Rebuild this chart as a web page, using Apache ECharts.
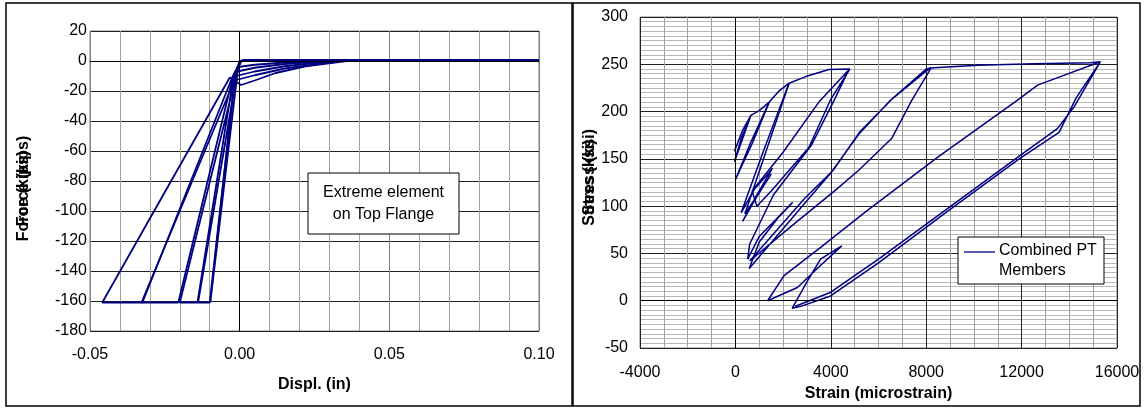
<!DOCTYPE html>
<html>
<head>
    <meta charset="utf-8">
    <title>PT force and stress</title>
    <script src="https://cdn.jsdelivr.net/npm/echarts@6.0.0/dist/echarts.min.js"></script>
    <style>
        html, body { margin: 0; padding: 0; background: #fff; }
    </style>
</head>
<body>
    <div id="main" style="width: 1146px;height:408px;"></div>
    <script type="text/javascript">
        // left panel: force (kips) vs displacement (in), extreme element on top flange
        var forceCycle1 = [[0.100, 0.8], [0.030, 0.8], [0.003, 0.8], [0.000, 0.0], [-0.0015, -8], [-0.0098, -161],
            [-0.0005, -4], [0.005, -2.5], [0.015, -1.0], [0.030, 0.3], [0.100, 0.8]];
        var forceCycle2 = [[0.100, 0.8], [0.030, 0.8], [0.003, 0.8], [0.0005, 0.0], [-0.0015, -9], [-0.0100, -161], [-0.0139, -161],
            [-0.0008, -7], [0.005, -4.5], [0.015, -2.0], [0.032, 0.3], [0.100, 0.8]];
        var forceCycle3 = [[0.100, 0.8], [0.030, 0.8], [0.003, 0.8], [0.0005, 0.0], [-0.0020, -10], [-0.0141, -161], [-0.0200, -161],
            [-0.0012, -10], [0.005, -7.0], [0.015, -3.5], [0.033, 0.3], [0.100, 0.8]];
        var forceCycle4 = [[0.100, 0.8], [0.030, 0.8], [0.003, 0.8], [0.0005, 0.0], [-0.0022, -10], [-0.0205, -161], [-0.0328, -161],
            [-0.0018, -13], [0.005, -9.5], [0.015, -5.0], [0.035, 0.3], [0.100, 0.8]];
        var forceCycle5 = [[0.100, 0.8], [0.030, 0.8], [0.003, 0.8], [0.0005, 0.0], [-0.0025, -11], [-0.0325, -161], [-0.0459, -161],
            [-0.0033, -11], [0.0005, -16], [0.005, -13], [0.012, -8], [0.022, -3.5], [0.037, 0.3], [0.100, 0.8]];

        // right panel: stress (ksi) vs strain (microstrain), combined PT members
        var stressEarly = [[-40, 158], [300, 180], [650, 196], [250, 172], [-40, 147], [650, 196], [1000, 201], [1420, 210],
            [600, 165], [0, 128], [700, 166], [1420, 210], [1800, 221], [2250, 230], [1200, 160], [240, 93],
            [800, 118], [1400, 135], [1550, 140], [900, 112], [300, 84], [900, 110], [1500, 134], [1100, 118], [400, 92]];
        var stressTo4800 = [[400, 92], [2250, 230], [2950, 237], [3920, 244.5], [4800, 245],
            [4000, 213], [3080, 162], [1540, 117], [900, 100], [700, 116], [2000, 157], [3500, 210], [4750, 244],
            [4200, 215], [3200, 165], [1600, 112], [600, 60], [515, 44]];
        var stressSmallLoop = [[515, 44], [1000, 68], [2400, 104], [1800, 88], [1000, 62], [580, 34]];
        var stressTo8200 = [[580, 34], [2800, 100], [4000, 135], [5170, 176], [6500, 212], [8000, 245], [8200, 246],
            [7400, 212], [6550, 171.5], [5170, 138], [4200, 117], [2400, 80], [600, 42],
            [2900, 108], [4100, 138], [5200, 178], [6600, 214], [8150, 246]];
        var stressBigLoop = [[8150, 246], [10170, 249], [12500, 250.5], [14890, 251.6], [15300, 252.6],
            [14300, 215], [13570, 178], [11900, 150], [8920, 95], [6000, 40], [3990, 5], [2740, -6], [2380, -8],
            [3000, 20], [3570, 44], [4460, 58], [3600, 38], [2600, 14], [1350, 0], [2040, 26.5], [3600, 57],
            [5510, 95], [8500, 152], [11830, 212], [12670, 228], [13630, 237], [15300, 252.6],
            [14200, 205], [13500, 182], [11900, 153], [8920, 98], [6000, 44], [4000, 9], [2700, -4], [2500, -6]];

        var font = 'Liberation Sans, Arial, sans-serif';
        var navy = '#000080';

        var myChart = echarts.init(document.getElementById('main'));

        function forceSeries(data, withZero) {
            var s = {
                name: 'Force',
                type: 'line',
                xAxisIndex: 0,
                yAxisIndex: 0,
                showSymbol: false,
                silent: true,
                lineStyle: { color: navy, width: 1.8 },
                data: data
            };
            if (withZero) {
                s.markLine = {
                    silent: true, symbol: 'none', label: { show: false },
                    lineStyle: { color: '#000', width: 1, type: 'solid' },
                    data: [{ xAxis: 0 }, { yAxis: 0 }]
                };
            }
            return s;
        }

        function stressSeries(data, withZero) {
            var s = {
                name: 'Combined PT Members',
                type: 'line',
                xAxisIndex: 1,
                yAxisIndex: 1,
                showSymbol: false,
                silent: true,
                lineStyle: { color: navy, width: 1.5 },
                data: data
            };
            if (withZero) {
                s.markLine = {
                    silent: true, symbol: 'none', label: { show: false },
                    lineStyle: { color: '#000', width: 1, type: 'solid' },
                    data: [{ xAxis: 0 }, { yAxis: 0 }]
                };
            }
            return s;
        }

        var labelStyle = { fontFamily: font, fontSize: 16, color: '#000' };
        var nameStyle = { fontFamily: font, fontSize: 16, fontWeight: 'bold', color: '#000' };

        option = {
            animation: false,
            grid: [
                { left: 90, top: 31, width: 449, height: 300, show: true, borderColor: '#808080', borderWidth: 1 },
                { left: 640, top: 17, width: 477, height: 331, show: true, borderColor: '#808080', borderWidth: 1 }
            ],
            xAxis: [
                {
                    gridIndex: 0, type: 'value', min: -0.05, max: 0.10, interval: 0.05,
                    axisLine: { show: false }, axisTick: { show: false },
                    axisLabel: Object.assign({ margin: 16, formatter: function (v) { return v.toFixed(2); } }, labelStyle),
                    splitLine: { lineStyle: { color: '#808080' } },
                    minorTick: { show: false, splitNumber: 5 },
                    minorSplitLine: { show: true, lineStyle: { color: '#a0a0a0' } },
                    name: 'Displ. (in)', nameLocation: 'middle', nameGap: 46, nameTextStyle: nameStyle
                },
                {
                    gridIndex: 1, type: 'value', min: -4000, max: 16000, interval: 4000,
                    axisLine: { show: false }, axisTick: { show: false },
                    axisLabel: Object.assign({ margin: 17, formatter: function (v) { return String(v); } }, labelStyle),
                    splitLine: { lineStyle: { color: '#222' } },
                    minorTick: { show: false, splitNumber: 4 },
                    minorSplitLine: { show: true, lineStyle: { color: '#a0a0a0' } },
                    name: 'Strain (microstrain)', nameLocation: 'middle', nameGap: 34, nameTextStyle: nameStyle
                }
            ],
            yAxis: [
                {
                    gridIndex: 0, type: 'value', min: -180, max: 20, interval: 20,
                    axisLine: { show: false }, axisTick: { show: false },
                    axisLabel: Object.assign({ margin: 3 }, labelStyle),
                    splitLine: { lineStyle: { color: '#222' } },
                    name: 'Force (kips)', nameLocation: 'middle', nameGap: 58, nameTextStyle: nameStyle
                },
                {
                    gridIndex: 1, type: 'value', min: -50, max: 300, interval: 50,
                    axisLine: { show: false }, axisTick: { show: false },
                    axisLabel: Object.assign({ margin: 12 }, labelStyle),
                    splitLine: { lineStyle: { color: '#222' } },
                    minorTick: { show: false, splitNumber: 10 },
                    minorSplitLine: { show: true, lineStyle: { color: '#b8b8b8' } },
                    name: 'Stress (ksi)', nameLocation: 'middle', nameGap: 42, nameTextStyle: nameStyle
                }
            ],
            graphic: [
                // panel frames
                { type: 'rect', shape: { x: 6, y: 3, width: 566, height: 403 }, style: { fill: 'none', stroke: '#000', lineWidth: 1.5 }, silent: true },
                { type: 'rect', shape: { x: 573, y: 3, width: 567, height: 403 }, style: { fill: 'none', stroke: '#000', lineWidth: 1.5 }, silent: true },
                // doubled axis titles as in the source image
                { type: 'text', x: 24, y: 196, rotation: Math.PI / 2, silent: true,
                    style: { text: 'Force (kips)', font: 'bold 16px ' + font, fill: '#000', align: 'center', verticalAlign: 'middle' } },
                { type: 'text', x: 590, y: 172, rotation: Math.PI / 2, silent: true,
                    style: { text: 'Stress (ksi)', font: 'bold 16px ' + font, fill: '#000', align: 'center', verticalAlign: 'middle' } },
                // left note box
                { type: 'rect', z: 100, shape: { x: 308, y: 173, width: 151, height: 61 }, style: { fill: '#fff', stroke: '#000', lineWidth: 1 }, silent: true },
                { type: 'text', z: 101, x: 383.5, y: 203.5, silent: true,
                    style: { text: 'Extreme element\non Top Flange', font: '16px ' + font, lineHeight: 22, fill: '#000', align: 'center', verticalAlign: 'middle' } },
                // right legend box
                { type: 'rect', z: 100, shape: { x: 958, y: 237, width: 146, height: 47 }, style: { fill: '#fff', stroke: '#000', lineWidth: 1 }, silent: true },
                { type: 'line', z: 101, shape: { x1: 964, y1: 252, x2: 995, y2: 252 }, style: { stroke: navy, lineWidth: 1.3 }, silent: true },
                { type: 'text', z: 101, x: 999, y: 241, silent: true,
                    style: { text: 'Combined PT\nMembers', font: '16px ' + font, lineHeight: 20, fill: '#000', align: 'left', verticalAlign: 'top' } }
            ],
            series: [
                forceSeries(forceCycle1, true),
                forceSeries(forceCycle2),
                forceSeries(forceCycle3),
                forceSeries(forceCycle4),
                forceSeries(forceCycle5),
                stressSeries(stressEarly, true),
                stressSeries(stressTo4800),
                stressSeries(stressSmallLoop),
                stressSeries(stressTo8200),
                stressSeries(stressBigLoop)
            ]
        };

        myChart.setOption(option);
    </script>
</body>
</html>
